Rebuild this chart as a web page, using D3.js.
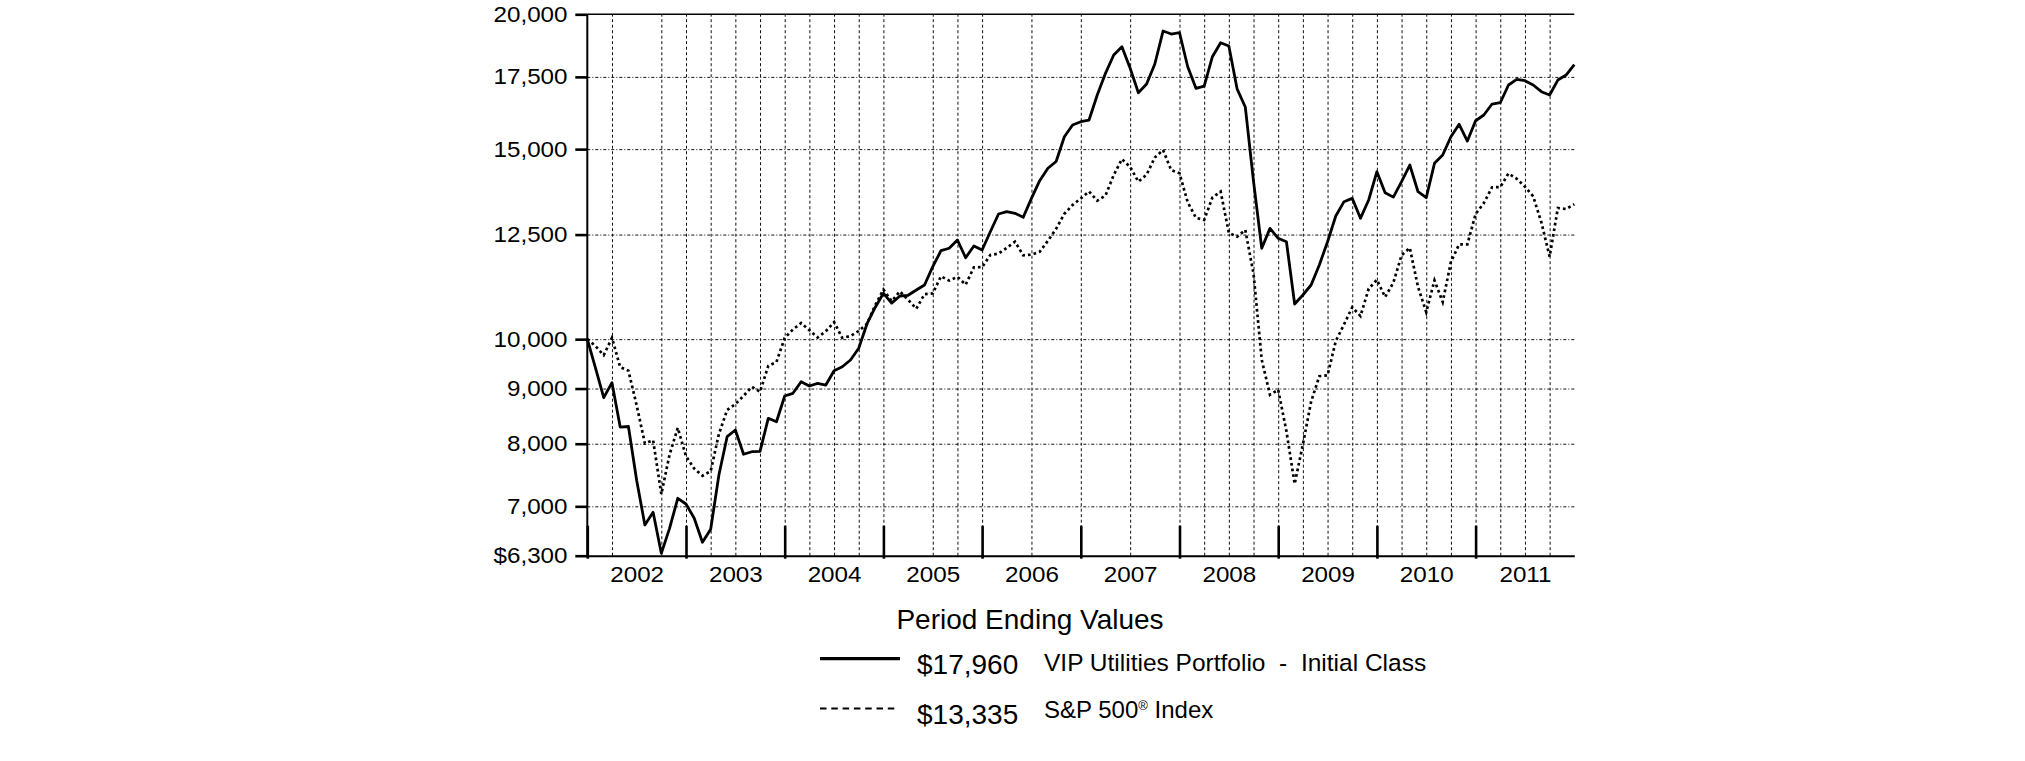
<!DOCTYPE html>
<html>
<head>
<meta charset="utf-8">
<script src="https://cdn.jsdelivr.net/npm/d3@7"></script>
<style>
  html, body { margin: 0; padding: 0; background: #fff; }
  svg { display: block; font-family: "Liberation Sans", Arial, sans-serif; }
</style>
</head>
<body>
<svg id="chart" width="2025" height="761"></svg>
<script>
// ---------------- DATA ----------------
// Month-end values, Dec 2001 .. Dec 2011 (121 points), hypothetical $10,000 investment
const fundValues = [
  10000,
  9400, 8826, 9113, 8290, 8300, 7400, 6727, 6911, 6332, 6679, 7121, 7035,
  6824, 6483, 6665, 7484, 8121, 8238, 7822, 7865, 7870, 8446, 8385, 8858,
  8909, 9132, 9049, 9101, 9068, 9349, 9429, 9565, 9807, 10330, 10700, 11030,
  10800, 10965, 10981, 11106, 11225, 11672, 12077, 12140, 12356, 11898, 12199, 12095,
  12576, 13061, 13125, 13080, 12969, 13505, 14023, 14400, 14610, 15402, 15791, 15903,
  15961, 16835, 17633, 18336, 18663, 17823, 16918, 17235, 17987, 19298, 19175, 19229,
  17883, 17077, 17161, 18269, 18823, 18691, 17060, 16410, 14000, 12140, 12667, 12401,
  12311, 10778, 10988, 11225, 11715, 12311, 13005, 13409, 13505, 12941, 13457, 14295,
  13668, 13540, 13993, 14500, 13697, 13522, 14552, 14813, 15402, 15815, 15261, 15937,
  16133, 16515, 16561, 17199, 17408, 17357, 17199, 16955, 16835, 17382, 17569, 17960
];
const indexValues = [
  10000,
  9854, 9664, 10028, 9420, 9350, 8684, 8007, 8060, 7184, 7816, 8276, 7790,
  7586, 7472, 7545, 8167, 8597, 8707, 8860, 9033, 8937, 9443, 9526, 10025,
  10209, 10351, 10195, 10035, 10172, 10370, 10027, 10067, 10176, 10331, 10750, 11116,
  10845, 11073, 10877, 10670, 11009, 11025, 11435, 11331, 11423, 11232, 11657, 11660,
  11969, 12001, 12150, 12313, 11958, 11975, 12049, 12336, 12654, 13067, 13315, 13502,
  13706, 13437, 13588, 14190, 14685, 14441, 13994, 14204, 14735, 14969, 14344, 14245,
  13390, 12955, 12899, 13527, 13703, 12548, 12443, 12623, 11498, 9568, 8881, 8975,
  8218, 7343, 7986, 8750, 9240, 9259, 9959, 10319, 10704, 10505, 11135, 11350,
  10941, 11281, 11961, 12150, 11179, 10594, 11337, 10826, 11792, 12240, 12241, 13059,
  13368, 13827, 13832, 14241, 14080, 13845, 13564, 12828, 11926, 13229, 13200, 13335
];
const years = ["2002","2003","2004","2005","2006","2007","2008","2009","2010","2011"];
const yTickValues = [6300, 7000, 8000, 9000, 10000, 12500, 15000, 17500, 20000];
const yGridValues = [7000, 8000, 9000, 10000, 12500, 15000, 17500];
// indices (months after Dec 2001) where vertical dotted grid lines appear
const gridMonthIdx = [3,9,12,15,18,21,24,27,30,33,36,42,45,48,54,60,66,72,75,78,81,84,87,90,93,96,99,102,105,108,111,114,117];
const seriesNames = ["VIP Utilities Portfolio - Initial Class", "S&P 500"];
const endingLabels = ["$17,960", "$13,335"];
const legendTitle = "Period Ending Values";

// ---------------- CATEGORIES ----------------
const fmtMonth = d3.utcFormat("%b %Y");
const months = d3.utcMonth.range(new Date(Date.UTC(2001, 11, 1)), new Date(Date.UTC(2012, 0, 1))).map(fmtMonth);

// ---------------- LAYOUT ----------------
const L = 587.3, R = 1574.3, T = 14.3, B = 555.7;
const svg = d3.select("#chart");
svg.append("rect").attr("width", 2025).attr("height", 761).attr("fill", "#fff");

const x = d3.scalePoint().domain(months).range([L, R]);
const y = d3.scaleLog().domain([6300, 20000]).range([B, T]);

// ---------------- GRID ----------------
const vGrid = svg.append("g").attr("transform", `translate(0,${B})`)
  .call(d3.axisBottom(x).tickValues(gridMonthIdx.map(i => months[i])).tickSize(-(B - T)).tickFormat(""));
vGrid.select(".domain").remove();
vGrid.selectAll("line").attr("stroke", "#111").attr("stroke-width", 1).attr("stroke-dasharray", "3,2.5");

const hGrid = svg.append("g").attr("transform", `translate(${L},0)`)
  .call(d3.axisLeft(y).tickValues(yGridValues).tickSize(-(R - L)).tickFormat(""));
hGrid.select(".domain").remove();
hGrid.selectAll("line").attr("stroke", "#111").attr("stroke-width", 1).attr("stroke-dasharray", "3,2,1,2");

// ---------------- LINES ----------------
const line = d3.line().x((d, i) => x(months[i])).y(d => y(d));
svg.append("path").datum(indexValues).attr("d", line)
  .attr("fill", "none").attr("stroke", "#000").attr("stroke-width", 2.7)
  .attr("stroke-dasharray", "2.7,3");
svg.append("path").datum(fundValues).attr("d", line)
  .attr("fill", "none").attr("stroke", "#000").attr("stroke-width", 2.8)
  .attr("stroke-linejoin", "round");

// top border
svg.append("line").attr("x1", L).attr("x2", R).attr("y1", y(20000)).attr("y2", y(20000))
  .attr("stroke", "#000").attr("stroke-width", 1.6);

// ---------------- AXES ----------------
const yAxis = svg.append("g").attr("transform", `translate(${L},0)`)
  .call(d3.axisLeft(y).tickValues(yTickValues).tickSize(12).tickPadding(6)
    .tickFormat(d => (d === 6300 ? "$" : "") + d3.format(",")(d)));
yAxis.select(".domain").attr("stroke-width", 2).attr("d", `M0,${B}V${T}`);
yAxis.selectAll(".tick line").attr("stroke-width", 2.6);
yAxis.selectAll("text").attr("font-size", 22).attr("fill", "#000")
  .attr("font-family", "'Liberation Sans', Arial, sans-serif")
  .attr("transform", "scale(1.1,1)");

// x axis baseline
const xBase = svg.append("g").attr("transform", `translate(0,${B})`)
  .call(d3.axisBottom(x).tickValues([]).tickSizeOuter(0));
xBase.select(".domain").attr("stroke-width", 2);

// year boundary ticks
const yearTicks = svg.append("g").attr("transform", `translate(0,${B + 3})`)
  .call(d3.axisBottom(x).tickValues(years.map((yr, i) => months[i * 12])).tickSize(-33).tickFormat(""));
yearTicks.select(".domain").remove();
yearTicks.selectAll("line").attr("stroke", "#000").attr("stroke-width", 2.6);

// year labels centered in each year
const yearLabels = svg.append("g").attr("transform", `translate(0,${B})`)
  .call(d3.axisBottom(x).tickValues(years.map((yr, i) => months[i * 12 + 6])).tickSize(0).tickPadding(10.5)
    .tickFormat((d, i) => years[i]));
yearLabels.select(".domain").remove();
yearLabels.selectAll("text").attr("font-size", 22).attr("fill", "#000")
  .attr("font-family", "'Liberation Sans', Arial, sans-serif")
  .attr("transform", "scale(1.1,1)");

// ---------------- LEGEND ----------------
const lg = svg.append("g");
lg.append("text").attr("x", 1030).attr("y", 629).attr("text-anchor", "middle")
  .attr("font-size", 28).text(legendTitle);

lg.append("line").attr("x1", 820).attr("x2", 900).attr("y1", 658.7).attr("y2", 658.7)
  .attr("stroke", "#000").attr("stroke-width", 3.3);
lg.append("text").attr("x", 917).attr("y", 674).attr("font-size", 28).text(endingLabels[0]);
lg.append("text").attr("x", 1044).attr("y", 671).attr("font-size", 24.5)
  .style("white-space", "pre").text(seriesNames[0].replace(" - ", "  -  "));

lg.append("line").attr("x1", 820).attr("x2", 898).attr("y1", 708.5).attr("y2", 708.5)
  .attr("stroke", "#000").attr("stroke-width", 2.2).attr("stroke-dasharray", "6.5,4.8");
lg.append("text").attr("x", 917).attr("y", 724).attr("font-size", 28).text(endingLabels[1]);
const t2 = lg.append("text").attr("x", 1044).attr("y", 718).attr("font-size", 24);
t2.append("tspan").text(seriesNames[1]);
t2.append("tspan").attr("font-size", 13).attr("dy", -8).text("®");
t2.append("tspan").attr("dy", 8).text(" Index");
</script>
</body>
</html>
